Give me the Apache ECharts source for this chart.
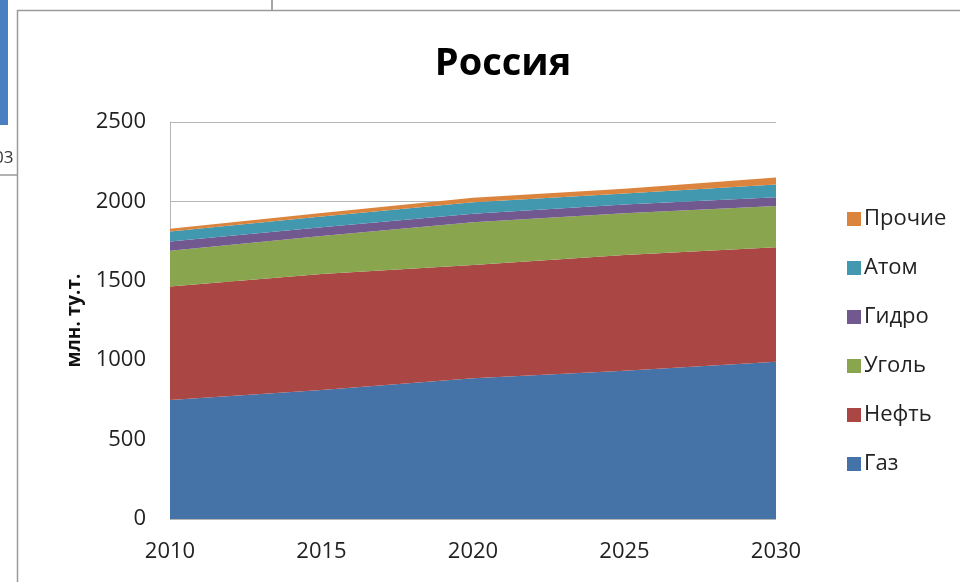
<!DOCTYPE html>
<html>
<head>
<meta charset="utf-8">
<script src="https://cdn.jsdelivr.net/npm/echarts@6/dist/echarts.min.js"></script>
<style>
  html, body { margin: 0; padding: 0; background: #fff; }
  #chart { width: 960px; height: 582px; }
</style>
</head>
<body>
<div id="chart"></div>
<script>
const years = ['2010', '2015', '2020', '2025', '2030'];
const gas = [750, 812, 886, 934, 991];
const oil = [714, 731, 713, 728, 720];
const coal = [226, 239, 269, 263, 260];
const hydro = [57, 55, 55, 55, 55];
const atom = [63, 68, 72, 70, 80];
const other = [17, 22, 28, 30, 45];

const font = '"Open Sans", "Noto Sans", sans-serif';
const chart = echarts.init(document.getElementById('chart'));

const mk = (name, data, color) => ({
  name: name,
  type: 'line',
  stack: 'total',
  data: data,
  showSymbol: false,
  lineStyle: { width: 0 },
  areaStyle: { color: color, opacity: 1 },
  itemStyle: { color: color },
  emphasis: { disabled: true }
});

chart.setOption({
  animation: false,
  textStyle: { fontFamily: font },
  title: {
    text: 'Россия',
    left: 498,
    textAlign: 'center',
    top: 40,
    textStyle: { fontSize: 38, fontWeight: 'bold', color: '#000', fontFamily: font }
  },
  legend: {
    orient: 'vertical',
    left: 842,
    top: 203,
    itemGap: 27,
    itemWidth: 14,
    itemHeight: 14,
    icon: 'rect',
    data: ['Прочие', 'Атом', 'Гидро', 'Уголь', 'Нефть', 'Газ'],
    textStyle: { fontSize: 22, color: '#222', fontFamily: font, padding: [0, 0, 0, -2] }
  },
  grid: { left: 170, right: 184, top: 122, bottom: 63 },
  xAxis: {
    type: 'category',
    data: years,
    boundaryGap: false,
    axisLine: { show: false },
    axisTick: { show: false },
    axisLabel: { fontSize: 22, color: '#222', margin: 22 }
  },
  yAxis: {
    type: 'value',
    min: 0,
    max: 2500,
    interval: 500,
    name: 'млн. ту.т.',
    nameLocation: 'middle',
    nameGap: 86,
    nameTextStyle: { fontSize: 19, fontWeight: 'bold', color: '#111' },
    axisLine: { show: true, lineStyle: { color: '#b5b5b5', width: 1 } },
    axisTick: { show: false },
    axisLabel: { fontSize: 22, color: '#222', margin: 24, formatter: v => String(v) },
    splitLine: { lineStyle: { color: '#b5b5b5', width: 1 } }
  },
  graphic: [
    { type: 'rect', shape: { x: 17.5, y: 10.5, width: 960, height: 600 }, style: { fill: 'none', stroke: '#9a9a9a', lineWidth: 1.5 }, z: 100 },
    { type: 'rect', shape: { x: 0, y: 0, width: 8, height: 125 }, style: { fill: '#4a7fc1' } },
    { type: 'line', shape: { x1: 272, y1: 0, x2: 272, y2: 10 }, style: { stroke: '#888', lineWidth: 1.5 } },
    { type: 'line', shape: { x1: 0, y1: 175, x2: 17, y2: 175 }, style: { stroke: '#999', lineWidth: 1.5 } },
    { type: 'text', left: -6, top: 150, style: { text: '03', fontSize: 17, fill: '#333', fontFamily: font } }
  ],
  series: [
    mk('Газ', gas, '#4572A7'),
    mk('Нефть', oil, '#AA4643'),
    mk('Уголь', coal, '#89A54E'),
    mk('Гидро', hydro, '#71588F'),
    mk('Атом', atom, '#4198AF'),
    mk('Прочие', other, '#DB843D')
  ]
});
</script>
</body>
</html>
